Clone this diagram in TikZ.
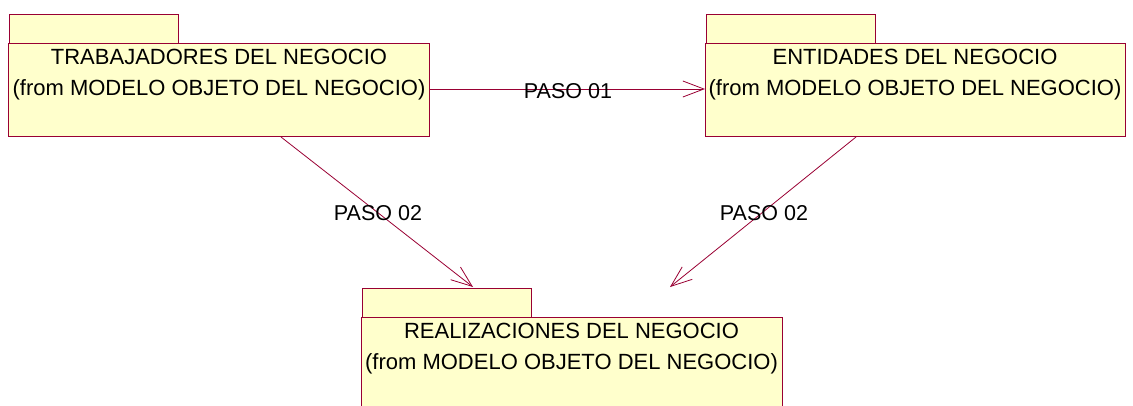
\documentclass[tikz,border=0pt]{standalone}
\usepackage{fontspec}
\setmainfont{Liberation Sans}
\usetikzlibrary{arrows.meta}
\definecolor{rosered}{RGB}{153,0,51}
\definecolor{roseyel}{RGB}{255,255,204}
\tikzset{
  pkgbox/.style={draw=rosered, fill=roseyel, line width=0.8pt, inner sep=0pt},
  pkgtext/.style={font=\fontsize{22}{31}\selectfont, align=center, inner sep=0pt, text=black},
  steplabel/.style={font=\fontsize{21.5}{25}\selectfont, inner sep=0pt, text=black},
  dep/.style={draw=rosered, line width=0.8pt, -{Straight Barb[length=21pt,width=16pt]}}
}
\begin{document}
\begin{tikzpicture}[x=1pt,y=-1pt]
\useasboundingbox (0,0) rectangle (1133,405);
% package 1
\draw[pkgbox] (9,14) rectangle (178,43);
\node[pkgbox, anchor=north west, minimum width=421pt, minimum height=93pt] (b1) at (8,43) {};
\node[pkgtext, anchor=center] (t1) at (219,74.5) {TRABAJADORES DEL NEGOCIO\\(from MODELO OBJETO DEL NEGOCIO)};
% package 2
\draw[pkgbox] (706,14) rectangle (875,43);
\node[pkgbox, anchor=north west, minimum width=420pt, minimum height=93pt] (b2) at (705,43) {};
\node[pkgtext, anchor=center] (t2) at (915,74.5) {ENTIDADES DEL NEGOCIO\\(from MODELO OBJETO DEL NEGOCIO)};
% package 3
\draw[pkgbox] (362,288) rectangle (531,317);
\node[pkgbox, anchor=north west, minimum width=421pt, minimum height=95pt] (b3) at (361,317) {};
\node[pkgtext, anchor=center] (t3) at (571.5,348.5) {REALIZACIONES DEL NEGOCIO\\(from MODELO OBJETO DEL NEGOCIO)};
% connectors
\coordinate (a1s) at (429,89);
\coordinate (a1e) at (705,89);
\draw[dep] (a1s) -- (a1e);
\coordinate (a2s) at (281,137);
\coordinate (a2e) at (473,287);
\draw[dep] (a2s) -- (a2e);
\coordinate (a3s) at (856,137);
\coordinate (a3e) at (670,287);
\draw[dep] (a3s) -- (a3e);
% labels
\node[steplabel] (l1) at (568,91) {PASO 01};
\node[steplabel] (l2) at (378,213) {PASO 02};
\node[steplabel] (l3) at (764,213) {PASO 02};
\end{tikzpicture}
\end{document}
